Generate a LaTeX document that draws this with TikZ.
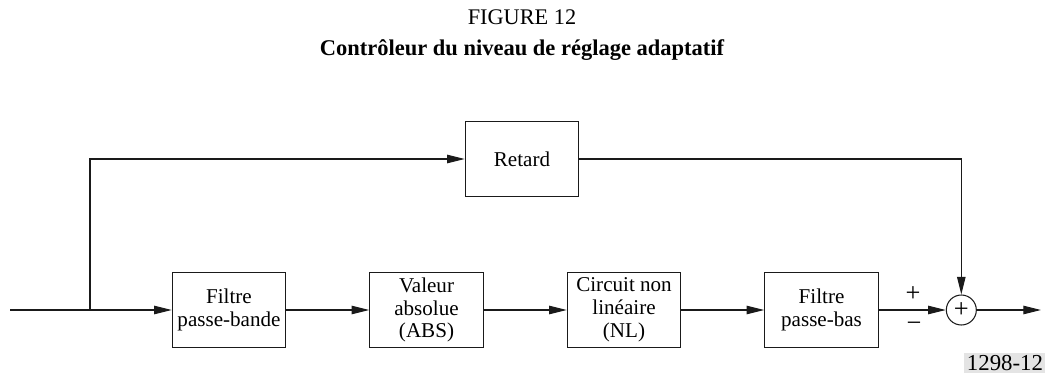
\documentclass[tikz,border=0pt]{standalone}
\usepackage{fontspec}
\setmainfont{Liberation Serif}
\usetikzlibrary{positioning,calc,arrows.meta}
\definecolor{tagGrey}{HTML}{E4E4E4}
\definecolor{lineBlk}{HTML}{1A1A1A}

\begin{document}
\begin{tikzpicture}[x=0.02cm, y=-0.02cm,
  blk/.style={draw=lineBlk, line width=0.6pt, minimum width=2.27cm,
    minimum height=1.5cm, align=center, inner sep=1pt,
    font=\fontsize{12}{13}\selectfont},
  wire/.style={draw=lineBlk, line width=0.6pt},
  sig/.style={wire, -{Triangle[length=10pt,width=4.8pt]}},
  sumnode/.style={draw=lineBlk, circle, line width=0.6pt, minimum size=0.6cm,
    inner sep=0pt, font=\fontsize{15}{15}\selectfont},
  signlbl/.style={font=\fontsize{15}{15}\selectfont, inner sep=0pt},
  node distance=1.66cm]

% --- FRAME (reference proportions) ---
\useasboundingbox (0,0) rectangle (1045,376);

% --- TITLES ---
\node[font=\fontsize{12.7}{14}\selectfont] (fig) at (522,17) {FIGURE 12};
\node[font=\fontsize{12.8}{14}\selectfont\bfseries] (title) at (522,50)
  {Contrôleur du niveau de réglage adaptatif};

% --- MAIN CHAIN ---
\node[blk] (pbande) at (229,310) {Filtre\\passe-bande};
\node[blk, right=of pbande] (abs) {Valeur\\absolue\\(ABS)};
\node[blk, right=of abs] (nl) {Circuit non\\linéaire\\(NL)};
\node[blk, right=of nl] (pbas) {Filtre\\passe-bas};
\node[sumnode, right=1.34cm of pbas] (sum) {+};

% --- DELAY PATH ---
\node[blk] (retard) at (522,159) {Retard};

% --- FREE ENDS ---
\coordinate (in) at (10,310);
\coordinate (br) at (90,310);
\coordinate (out) at (1041,310);

% --- CONNECTORS ---
\draw[wire] (in) -- (br);
\draw[sig] (br) -- (pbande.west);
\draw[sig] (br) |- (retard.west);
\draw[sig] (pbande.east) -- (abs.west);
\draw[sig] (abs.east) -- (nl.west);
\draw[sig] (nl.east) -- (pbas.west);
\draw[sig] (pbas.east) -- (sum.west);
\draw[sig] (retard.east) -| (sum.north);
\draw[sig] (sum.east) -- (out);

% --- SIGNS ---
\node[signlbl] (plus) at (913,294) {+};
\node[signlbl] (minus) at (914,327) {−};

% --- TAG ---
\node[fill=tagGrey, inner sep=1.5pt, font=\fontsize{13}{13}\selectfont]
  (tag) at (1005,363) {1298-12};

\end{tikzpicture}
\end{document}
